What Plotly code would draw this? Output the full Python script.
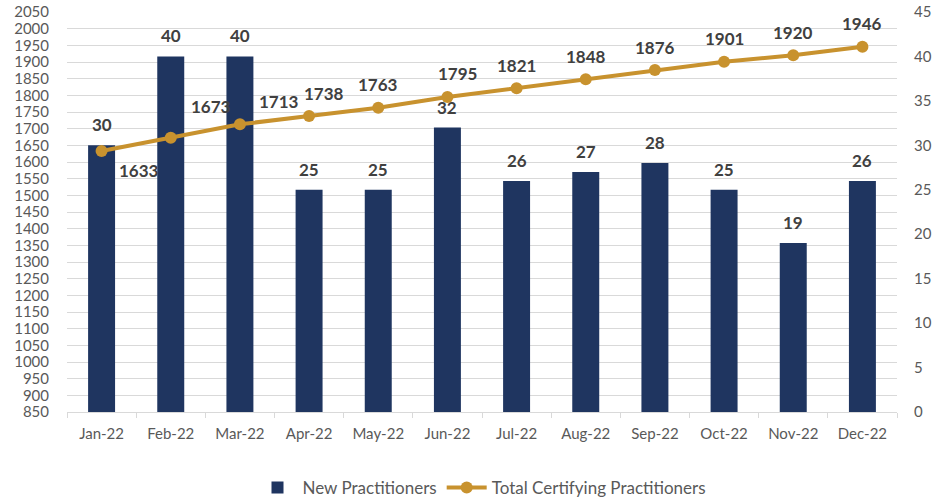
import plotly.graph_objects as go

months = ["Jan-22", "Feb-22", "Mar-22", "Apr-22", "May-22", "Jun-22",
          "Jul-22", "Aug-22", "Sep-22", "Oct-22", "Nov-22", "Dec-22"]
new_practitioners = [30, 40, 40, 25, 25, 32, 26, 27, 28, 25, 19, 26]
total_certifying = [1633, 1673, 1713, 1738, 1763, 1795, 1821, 1848, 1876, 1901, 1920, 1946]

left_ticks = list(range(850, 2051, 50))
right_ticks = list(range(0, 46, 5))

NAVY = "#1F3560"
GOLD = "#C8922E"
TXT = "#595959"
LBL = "#404040"
GRID = "#D9D9D9"
FONT = "Lato"

# label offsets for line labels (style only)
line_xshift = [37, 40, 39, 15, 0, 10, 0, 0, 0, 0, 0, 0]
line_yshift = [-19, 31, 23, 23, 23, 24, 23, 23, 23, 23, 23, 23]

fig = go.Figure()
fig.add_trace(go.Bar(
    x=months, y=new_practitioners, name="New Practitioners",
    marker=dict(color=NAVY, line=dict(width=0)),
    yaxis="y", width=0.39,
))
fig.add_trace(go.Scatter(
    x=months, y=total_certifying, name="Total Certifying Practitioners",
    mode="lines+markers", yaxis="y2",
    line=dict(color=GOLD, width=4), marker=dict(color=GOLD, size=12),
))

annotations = []
for m, v in zip(months, new_practitioners):
    annotations.append(dict(x=m, y=v, xref="x", yref="y", text=str(v),
                            showarrow=False, yanchor="bottom", yshift=8,
                            font=dict(family=FONT, size=17, color=LBL, weight="bold")))
for m, v, dx, dy in zip(months, total_certifying, line_xshift, line_yshift):
    annotations.append(dict(x=m, y=v, xref="x", yref="y2", text=str(v),
                            showarrow=False, xshift=dx, yshift=dy,
                            font=dict(family=FONT, size=17, color=LBL, weight="bold")))

fig.update_layout(
    width=932, height=499,
    margin=dict(l=67, r=35, t=12, b=87, autoexpand=False),
    plot_bgcolor="white", paper_bgcolor="white",
    font=dict(family=FONT, size=14, color=TXT),
    bargap=0.61,
    showlegend=True,
    legend=dict(orientation="h", x=0.5, xanchor="center", y=-0.19, yanchor="middle",
                font=dict(family=FONT, size=17, color=TXT), itemwidth=40,
                tracegroupgap=0),
    xaxis=dict(range=[-0.5, len(months) - 0.5], showgrid=False, showline=True,
               linecolor=GRID, linewidth=1,
               ticks="outside", tickson="boundaries", ticklen=5, tickcolor=GRID,
               automargin=False, ticklabelstandoff=8,
               tickfont=dict(family=FONT, size=15, color=TXT)),
    yaxis=dict(side="right", range=[0, 45], tickvals=right_ticks, showgrid=False,
               zeroline=False, showline=False, automargin=False,
               minor=dict(dtick=1.875, tick0=0, showgrid=True, gridcolor=GRID, gridwidth=1),
               tickfont=dict(family=FONT, size=15, color=TXT), ticklabelstandoff=16),
    yaxis2=dict(side="left", overlaying="y", range=[850, 2050], tickvals=left_ticks,
                showgrid=False, zeroline=False, showline=False, automargin=False,
                tickfont=dict(family=FONT, size=15, color=TXT), ticklabelstandoff=17),
    annotations=annotations,
)

fig.write_html("out.html", config={"displayModeBar": False},
               post_script="document.body.style.margin='0';document.body.style.padding='0';")
